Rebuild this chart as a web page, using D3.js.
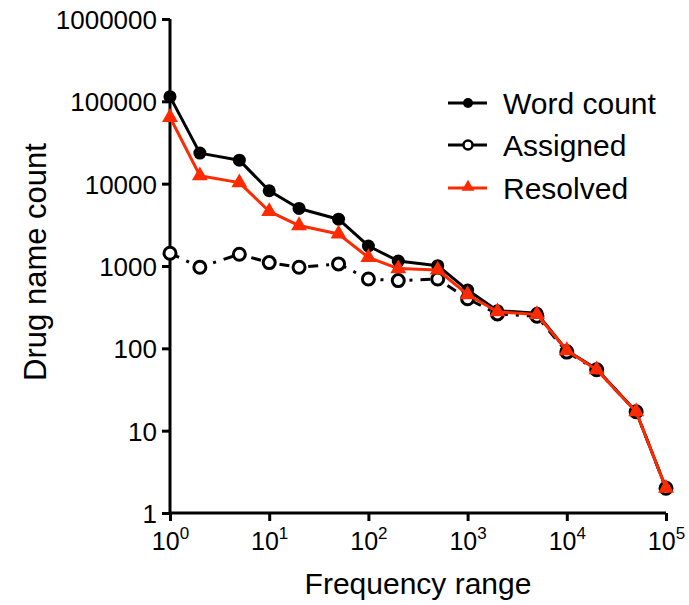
<!DOCTYPE html>
<html><head><meta charset="utf-8">
<script src="https://cdn.jsdelivr.net/npm/d3@7"></script>
<style>
html,body{margin:0;padding:0;background:#fff;}
svg{display:block;font-family:"Liberation Sans",Arial,Helvetica,sans-serif;}
</style>
</head><body>
<svg id="chart" width="689" height="605"></svg>
<script>
const frequencies = [1, 2, 5, 10, 20, 50, 100, 200, 500, 1000, 2000, 5000, 10000, 20000, 50000, 100000];
const wordCount = [114000, 23500, 19300, 8200, 5000, 3700, 1750, 1150, 1010, 510, 287, 266, 94, 56, 17, 2];
const assigned = [1430, 965, 1390, 1100, 965, 1060, 695, 665, 695, 400, 262, 245, 90, 55, 17, 2];
const resolved = [64000, 12500, 10300, 4600, 3100, 2450, 1270, 930, 895, 450, 278, 258, 94, 55, 17, 2];
const xTicks = [1, 10, 100, 1000, 10000, 100000];
const yTicks = [1, 10, 100, 1000, 10000, 100000, 1000000];
const seriesNames = ["Word count", "Assigned", "Resolved"];

const RED = "#ff2a00";
const svg = d3.select("#chart");
const x = d3.scaleLog().domain([1, 1e5]).range([170, 666]);
const y = d3.scaleLog().domain([1, 1e6]).range([513, 19]);

// axes
const gy = svg.append("g").attr("transform", "translate(170,0)")
  .call(d3.axisLeft(y).tickValues(yTicks).tickFormat(d3.format("d")).tickSize(8).tickPadding(5));
gy.select(".domain").attr("stroke-width", 3).attr("d", `M0,${y(1e6)}V${y(1)}`);
gy.selectAll(".tick line").attr("stroke-width", 3);
gy.selectAll(".tick text").attr("font-size", 26).attr("fill", "#000").attr("dy", "0.36em");

const gx = svg.append("g").attr("transform", "translate(0,513)")
  .call(d3.axisBottom(x).tickValues(xTicks).tickFormat("").tickSize(8));
gx.select(".domain").attr("stroke-width", 3).attr("d", `M${x(1)},0H${x(1e5)}`);
gx.selectAll(".tick line").attr("stroke-width", 3);
gx.selectAll(".tick").each(function(d) {
  const t = d3.select(this).append("text").attr("y", 37).attr("fill", "#000")
    .attr("text-anchor", "middle").attr("font-size", 25);
  t.append("tspan").text("10");
  t.append("tspan").attr("font-size", 17).attr("dy", -11).text(Math.round(Math.log10(d)));
});

// axis titles
svg.append("text").attr("x", 418).attr("y", 594).attr("text-anchor", "middle")
  .attr("font-size", 30).text("Frequency range");
svg.append("text").attr("transform", "translate(46,262) rotate(-90)").attr("text-anchor", "middle")
  .attr("font-size", 31).text("Drug name count");

const line = d3.line().x((d, i) => x(frequencies[i])).y(d => y(d));

// Word count
svg.append("path").datum(wordCount).attr("d", line).attr("fill", "none")
  .attr("stroke", "#000").attr("stroke-width", 3).attr("stroke-linejoin", "round");
svg.append("g").selectAll("circle").data(wordCount).join("circle")
  .attr("cx", (d, i) => x(frequencies[i])).attr("cy", d => y(d)).attr("r", 6.5).attr("fill", "#000");

// Assigned
svg.append("path").datum(assigned).attr("d", line).attr("fill", "none")
  .attr("stroke", "#000").attr("stroke-width", 3).attr("stroke-dasharray", "10,8,3,8");
svg.append("g").selectAll("circle").data(assigned).join("circle")
  .attr("cx", (d, i) => x(frequencies[i])).attr("cy", d => y(d)).attr("r", 6)
  .attr("fill", "#fff").attr("stroke", "#000").attr("stroke-width", 3);

// Resolved
const tri = d3.symbol().type(d3.symbolTriangle).size(110);
svg.append("path").datum(resolved).attr("d", line).attr("fill", "none")
  .attr("stroke", RED).attr("stroke-width", 3).attr("stroke-linejoin", "round");
svg.append("g").selectAll("path").data(resolved).join("path")
  .attr("d", tri).attr("fill", RED)
  .attr("transform", (d, i) => `translate(${x(frequencies[i])},${y(d)})`);

// legend
const legY = [103, 145, 188];
const leg = svg.append("g");
seriesNames.forEach((name, i) => {
  const g = leg.append("g").attr("transform", `translate(0,${legY[i]})`);
  g.append("line").attr("x1", 448).attr("x2", 487).attr("y1", 0).attr("y2", 0)
    .attr("stroke", i === 2 ? RED : "#000").attr("stroke-width", 3);
  if (i === 0) g.append("circle").attr("cx", 468).attr("cy", 0).attr("r", 5).attr("fill", "#000");
  if (i === 1) g.append("circle").attr("cx", 468).attr("cy", 0).attr("r", 4.5).attr("fill", "#fff")
    .attr("stroke", "#000").attr("stroke-width", 2.5);
  if (i === 2) g.append("path").attr("d", d3.symbol().type(d3.symbolTriangle).size(70)())
    .attr("transform", "translate(468,-1)").attr("fill", RED);
  g.append("text").attr("x", 503).attr("y", 11).attr("font-size", 30).text(name);
});
</script>
</body></html>
